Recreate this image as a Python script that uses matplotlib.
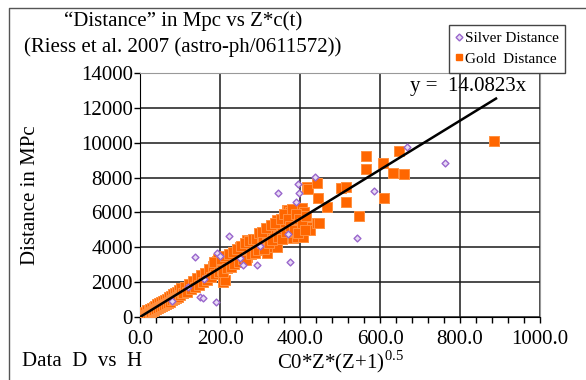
import matplotlib
matplotlib.use("Agg")
import matplotlib.pyplot as plt
from matplotlib.lines import Line2D
from matplotlib.ticker import MultipleLocator

plt.rcParams["font.family"] = "Liberation Serif"
plt.rcParams["mathtext.fontset"] = "custom"
plt.rcParams["mathtext.rm"] = "Liberation Serif"

# Gold sample: C0*Z*(Z+1)^0.5 vs distance (Mpc)
gold_x = [3, 5, 7, 8, 10, 12, 14, 15, 17, 19, 21, 23, 25, 27, 29, 31, 33, 35, 37, 40,
          42, 44, 46, 48, 50, 53, 55, 58, 60, 63, 65, 68, 70, 73, 75, 78, 80, 83, 85, 88,
          90, 93, 95, 98, 100,
          2, 4, 6, 9, 11, 13, 16, 18, 20, 22, 24, 26, 28, 30, 32, 34, 36, 38, 41, 43,
          45, 47, 49, 52, 54, 57, 59, 62, 64, 67, 69, 72, 74, 77, 79, 82, 84, 87, 89, 92,
          94, 97, 99,
          103, 105, 108, 110, 113, 115, 118, 120, 123, 125, 128, 130, 133, 135, 138, 140,
          143, 145, 148, 150, 153, 155, 158, 160, 163, 165, 168, 170, 173, 175, 178, 180,
          183, 185, 188, 190, 193, 195, 198, 200,
          102, 107, 112, 117, 122, 127, 132, 137, 142, 147, 152, 157, 162, 167, 172, 177,
          182, 187, 192, 197, 196, 186,
          203, 205, 208, 212, 210, 215, 218, 220, 223, 225, 228, 230, 233, 235, 237, 240,
          243, 245, 248, 250, 253, 255, 258, 260, 263, 267, 267, 270, 275, 278, 283, 285,
          288, 292, 295, 300, 300,
          202, 207, 213, 217, 222, 227, 232, 236, 242, 247, 252, 257, 262, 265, 272, 277,
          282, 287, 290, 296, 298,
          304, 308, 312, 317, 317, 320, 325, 329, 333, 336, 342, 342, 346, 350, 355, 358,
          362, 367, 367, 371, 375, 379, 383, 383, 388, 392, 396, 400, 400, 404, 408, 410,
          417, 419, 421, 425, 442, 442, 446, 447, 467,
          306, 310, 315, 322, 327, 331, 338, 345, 352, 356, 360, 365, 370, 376, 380, 386,
          390, 394, 398, 405, 412, 415,
          502, 514, 514, 547, 565, 565, 607, 610, 632, 647, 661, 885]
gold_y = [40, 100, 60, 150, 120, 200, 170, 250, 220, 300, 260, 350, 310, 400, 360, 470, 420, 520, 480, 580,
          540, 650, 600, 700, 640, 780, 720, 850, 800, 920, 870, 990, 930, 1080, 1020, 1150, 1080, 1230, 1160, 1300,
          1220, 1380, 1300, 1450, 1360,
          0, 150, 30, 250, 60, 300, 120, 380, 180, 420, 240, 480, 300, 540, 330, 600, 400, 650, 450, 720,
          520, 800, 560, 860, 620, 900, 700, 980, 760, 1060, 820, 1150, 880, 1230, 950, 1300, 1020, 1380, 1100, 1450,
          1150, 1550, 1250,
          1500, 1400, 1580, 1480, 1650, 1550, 1720, 1620, 1800, 1700, 1880, 1760, 1960, 1840, 2050, 1920,
          2120, 2000, 2200, 2080, 2300, 2150, 2380, 2230, 2460, 2300, 2550, 2380, 2650, 2450, 2750, 2520,
          2850, 2600, 2950, 2680, 3050, 2750, 3150, 2830,
          1650, 1350, 1750, 1450, 1900, 1580, 2050, 1700, 2250, 1850, 2400, 2000, 2550, 2150, 2750, 2300,
          2950, 2450, 3200, 2600, 3300, 3150,
          3000, 2700, 2010, 2120, 3250, 2900, 3350, 3050, 3150, 3450, 3000, 3300, 3550, 3200, 3270, 3650,
          3400, 3750, 3300, 4030, 3600, 3850, 3500, 3950, 3700, 3460, 4420, 4100, 4420, 3800, 3940, 4200,
          3900, 4230, 4350, 4610, 4000,
          3350, 2600, 3500, 2800, 3600, 2850, 3750, 3050, 3900, 3150, 4100, 3300, 4250, 3250, 4350, 3600,
          4500, 3700, 4450, 3850, 4800,
          4230, 4500, 4100, 3670, 4610, 4400, 4800, 4990, 4030, 4700, 5570, 4030, 5200, 4800, 5000, 5380,
          5700, 5950, 6140, 6140, 6040, 5950, 4610, 4520, 5500, 4610, 5300, 5180, 4990, 6240, 4570, 6040,
          7480, 7350, 5150, 4990, 7670, 5380, 6810, 5380, 6290,
          4900, 3900, 5100, 4250, 5300, 4400, 5400, 4600, 5600, 4450, 5900, 4850, 5600, 5200, 6200, 5000,
          5900, 4800, 5600, 5400, 5000, 5800,
          7390, 7480, 6580, 5810, 9260, 8490, 8820, 6810, 8245, 9525, 8205, 10100]

# Silver sample
silver_x = [79, 120, 137, 150, 157, 160, 189, 192, 200, 223, 250, 257, 292, 300, 346, 371,
            375, 389, 396, 397, 437, 542, 586, 667, 762]
silver_y = [935, 1700, 3425, 1130, 1073, 2200, 880, 3655, 3500, 4665, 3400, 2984, 2984, 4100, 7100, 4762,
            3173, 6581, 7614, 7098, 8050, 4515, 7230, 9773, 8836]

slope = 14.0823
fit_x = [0, 890]

fig = plt.figure(figsize=(5.86, 3.8), dpi=100)
ax = fig.add_axes([140 / 586, 63 / 380, 400 / 586, 244 / 380])

ax.set_xlim(0, 1000)
ax.set_ylim(0, 14000)
ax.xaxis.set_major_locator(MultipleLocator(200))
ax.xaxis.set_minor_locator(MultipleLocator(40))
ax.yaxis.set_major_locator(MultipleLocator(2000))
ax.set_xticklabels([f"{v:.1f}" for v in ax.get_xticks()])
ax.tick_params(axis="both", labelsize=15, direction="out", length=4, width=1, pad=1)
ax.tick_params(axis="x", pad=5)
ax.tick_params(axis="x", which="minor", length=4, width=1)
ax.grid(True, which="major", color="#1a1a1a", linewidth=1.1)
for side in ["top", "right"]:
    ax.spines[side].set_color("#999999")
for side in ["left", "bottom"]:
    ax.spines[side].set_color("black")

ax.scatter(gold_x, gold_y, marker="s", s=50, color="#ff6600", edgecolors="#ff9040",
           linewidths=0.7, zorder=3)
ax.scatter(silver_x, silver_y, marker="D", s=12, facecolors="#e8dcf5", edgecolors="#9966cc",
           linewidths=1.0, zorder=3.5)
ax.plot(fit_x, [slope * v for v in fit_x], color="black", linewidth=1.8, zorder=4)

ax.text(0.82, 0.945, f"y =  {slope}x", transform=ax.transAxes, fontsize=15,
        ha="center", va="center", zorder=1.2,
        bbox=dict(facecolor="white", edgecolor="none", pad=1))

ax.set_ylabel("Distance in MPc", fontsize=15)
ax.yaxis.set_label_coords(-0.25, 0.5)
ax.set_xlabel(r"C0*Z*(Z+1)$^{0.5}$", fontsize=15, labelpad=0)

fig.text(183 / 586, 1 - 21 / 380, "\u201cDistance\u201d in Mpc vs Z*c(t)", fontsize=15,
         ha="center", va="center")
fig.text(183 / 586, 1 - 47 / 380, "(Riess et al. 2007 (astro-ph/0611572))", fontsize=15,
         ha="center", va="center")
fig.text(22 / 586, 1 - 362 / 380, "Data  D  vs  H", fontsize=15, ha="left", va="center")

handles = [
    Line2D([], [], marker="D", linestyle="none", markersize=3.5, markerfacecolor="#e8dcf5",
           markeredgecolor="#9966cc", label="Silver Distance"),
    Line2D([], [], marker="s", linestyle="none", markersize=4.5, color="#ff6600",
           label="Gold  Distance"),
]
fig.legend(handles=handles, loc="upper right", bbox_to_anchor=(573 / 586, 1 - 17 / 380),
           fontsize=11, handlelength=0.5, handletextpad=0.1, borderpad=0.45,
           labelspacing=0.45, fancybox=False, edgecolor="#444444", framealpha=1)

# outer chart frame (left and top edges visible)
fig.add_artist(Line2D([9 / 586, 9 / 586, 1.0], [0.0, 1 - 8 / 380, 1 - 8 / 380],
                      transform=fig.transFigure, color="#555555", linewidth=1.0))

fig.savefig("out.png", dpi=100)
